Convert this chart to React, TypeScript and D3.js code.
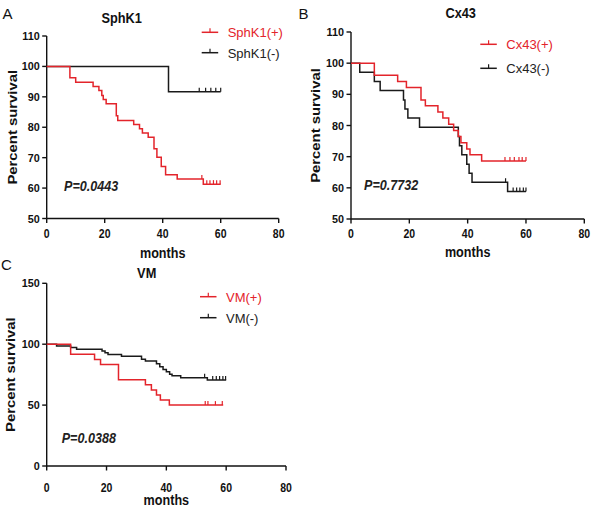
import React from "react";
import * as d3 from "d3";

// ---------- DATA ----------
const xTicks = [0, 20, 40, 60, 80];
const yTicksAB = [50, 60, 70, 80, 90, 100, 110];
const yTicksC = [0, 50, 100, 150];

// Panel A: SphK1
const sphPosTimes = [8, 10, 16, 18, 19, 19.5, 20.5, 24, 24.5, 30, 32, 33, 35, 37, 38, 39.5, 41, 45, 54];
const sphPosValues = [96.3, 94.8, 93.4, 92.1, 90.4, 89.1, 87.7, 83.8, 82.2, 80.9, 79.5, 78.1, 76.7, 72.9, 70.1, 67.1, 64.4, 63.0, 61.3];
const sphPosCensor = [53.5, 55.2, 56.3, 57.5, 58.6, 59.8];
const sphNegTimes = [42];
const sphNegValues = [91.7];
const sphNegCensor = [52.6, 54.8, 56.6, 58.3, 60];

// Panel B: Cx43
const cxPosTimes = [8, 16, 19, 24, 25.5, 29.8, 31.5, 33.5, 35.2, 36.8, 37.7, 39.7, 40.8, 44.8];
const cxPosValues = [96.1, 94.1, 92.2, 88.2, 86.3, 84.3, 82.4, 80.4, 78.4, 76.5, 74.5, 72.5, 70.6, 68.6];
const cxPosCensor = [52.8, 54.5, 56, 57.6, 58.7, 60];
const cxNegTimes = [3, 8, 10, 18, 18.5, 19.5, 23.5, 36.8, 37.2, 38, 39.7, 40.5, 41.5, 53.7];
const cxNegValues = [97.1, 94.1, 91.2, 88.2, 85.3, 82.4, 79.4, 76.5, 73.5, 70.6, 67.6, 64.7, 61.8, 58.8];
const cxNegCensor = [53, 55.6, 56.8, 57.9, 59.1, 60];

// Panel C: VM
const vmPosTimes = [8, 16, 18, 24, 33, 35, 36.7, 38, 41];
const vmPosValues = [91.7, 87.5, 83.3, 70.8, 66.7, 62.5, 58.3, 54.2, 50];
const vmPosCensor = [53, 53.9, 56.4, 58.7];
const vmNegTimes = [3.3, 8, 10, 18.5, 19.5, 20.5, 25, 31.7, 33, 36.7, 37.8, 38.9, 40, 41.1, 41.9, 44.8, 53.7];
const vmNegValues = [98.6, 97.2, 95.8, 94.4, 92.9, 91.5, 90.1, 87.7, 86.3, 83.9, 81.5, 79.3, 77.3, 75.3, 74.0, 72.4, 70.6];
const vmNegCensor = [52.8, 55.5, 56.7, 57.8, 58.9, 59.8];

// ---------- STYLE ----------
const RED = "#e3242b";
const BLACK = "#1a1a1a";
const FONT = "'Liberation Sans', Arial, Helvetica, sans-serif";

type Series = {
  name: string;
  color: string;
  times: number[];
  values: number[];
  censor: number[];
  end: number;
};

type PanelProps = {
  letter: string;
  letterPos: [number, number];
  title: string;
  titlePos: [number, number];
  x0: number;
  x1: number;
  yTop: number;
  yBot: number;
  yDomain: [number, number];
  yTicks: number[];
  series: Series[];
  legendX: number;
  legendYs: number[];
  pText: string;
  pPos: [number, number];
  yLabelX: number;
  xLabelY: number;
  xTickY: number;
};

function T(props: {
  x: number;
  y: number;
  sx?: number;
  sy?: number;
  rot?: number;
  size: number;
  bold?: boolean;
  italic?: boolean;
  anchor?: string;
  fill?: string;
  children: React.ReactNode;
}) {
  const { x, y, sx = 1, sy = 1, rot = 0, size, bold, italic, anchor = "start", fill = "#111" } = props;
  return (
    <text
      transform={`translate(${x},${y}) rotate(${rot}) scale(${sx},${sy})`}
      fontSize={size}
      fontWeight={bold ? "bold" : "normal"}
      fontStyle={italic ? "italic" : "normal"}
      textAnchor={anchor}
      fill={fill}
    >
      {props.children}
    </text>
  );
}

function survAt(s: Series, t: number) {
  let v = 100;
  for (let i = 0; i < s.times.length; i++) if (s.times[i] <= t) v = s.values[i];
  return v;
}

function Panel(p: PanelProps) {
  const x = d3.scaleLinear().domain([0, 80]).range([p.x0, p.x1]);
  const y = d3.scaleLinear().domain(p.yDomain).range([p.yBot, p.yTop]);
  const line = d3
    .line<[number, number]>()
    .x((d) => x(d[0]))
    .y((d) => y(d[1]))
    .curve(d3.curveStepAfter);

  return (
    <g fontFamily={FONT}>
      <T x={p.letterPos[0]} y={p.letterPos[1]} size={15}>
        {p.letter}
      </T>
      <T x={p.titlePos[0]} y={p.titlePos[1]} size={12.8} sy={1.12} bold anchor="middle">
        {p.title}
      </T>
      {/* axes */}
      <line x1={p.x0} x2={p.x0} y1={p.yTop} y2={p.yBot} stroke="#111" strokeWidth={1.4} />
      <line x1={p.x0} x2={p.x1} y1={p.yBot} y2={p.yBot} stroke="#111" strokeWidth={1.4} />
      {p.yTicks.map((t) => (
        <g key={"y" + t}>
          <line x1={p.x0 - 4.5} x2={p.x0} y1={y(t)} y2={y(t)} stroke="#111" strokeWidth={1.4} />
          <T x={p.x0 - 7} y={y(t) + 4} size={10.8} sy={1.08} bold anchor="end">
            {t}
          </T>
        </g>
      ))}
      {xTicks.map((t) => (
        <g key={"x" + t}>
          <line x1={x(t)} x2={x(t)} y1={p.yBot} y2={p.yBot + 4.5} stroke="#111" strokeWidth={1.4} />
          <T x={x(t)} y={p.xTickY} size={10.5} sy={1.25} bold anchor="middle">
            {t}
          </T>
        </g>
      ))}
      <T x={p.yLabelX + 5} y={(p.yTop + p.yBot) / 2} rot={-90} sx={1.1} size={13.5} bold anchor="middle">
        Percent survival
      </T>
      <T x={(p.x0 + p.x1) / 2} y={p.xLabelY} size={12.6} sy={1.2} bold anchor="middle">
        months
      </T>
      {/* curves: draw black first then red */}
      {[...p.series].reverse().map((s) => {
        const pts: [number, number][] = [[0, 100]];
        s.times.forEach((t, i) => pts.push([t, s.values[i]]));
        pts.push([s.end, s.values[s.values.length - 1]]);
        return (
          <g key={s.name}>
            <path d={line(pts) || ""} fill="none" stroke={s.color} strokeWidth={1.5} />
            {s.censor.map((c, i) => (
              <line
                key={i}
                x1={x(c)}
                x2={x(c)}
                y1={y(survAt(s, c))}
                y2={y(survAt(s, c)) - 4}
                stroke={s.color}
                strokeWidth={1.2}
              />
            ))}
          </g>
        );
      })}
      {/* legend */}
      {p.series.map((s, i) => (
        <g key={"lg" + s.name}>
          <line x1={p.legendX} x2={p.legendX + 16.5} y1={p.legendYs[i]} y2={p.legendYs[i]} stroke={s.color} strokeWidth={1.5} />
          <line
            x1={p.legendX + 8.3}
            x2={p.legendX + 8.3}
            y1={p.legendYs[i]}
            y2={p.legendYs[i] - 4}
            stroke={s.color}
            strokeWidth={1.2}
          />
          <T x={p.legendX + 26} y={p.legendYs[i] + 4.8} size={13} sy={1.05} fill={i === 0 ? RED : "#222"}>
            {s.name}
          </T>
        </g>
      ))}
      <T x={p.pPos[0]} y={p.pPos[1]} size={12.6} sy={1.12} bold italic fill="#222">
        {p.pText}
      </T>
    </g>
  );
}

export default function App() {
  const panels: PanelProps[] = [
    {
      letter: "A",
      letterPos: [2.5, 18.5],
      title: "SphK1",
      titlePos: [121.7, 22.5],
      x0: 46.7,
      x1: 278.7,
      yTop: 36,
      yBot: 218.5,
      yDomain: [50, 110],
      yTicks: yTicksAB,
      series: [
        { name: "SphK1(+)", color: RED, times: sphPosTimes, values: sphPosValues, censor: sphPosCensor, end: 60 },
        { name: "SphK1(-)", color: BLACK, times: sphNegTimes, values: sphNegValues, censor: sphNegCensor, end: 60 },
      ],
      legendX: 201.7,
      legendYs: [32.3, 52.7],
      pText: "P=0.0443",
      pPos: [64, 190.5],
      yLabelX: 11.7,
      xLabelY: 258,
      xTickY: 238.3,
    },
    {
      letter: "B",
      letterPos: [298.5, 18.5],
      title: "Cx43",
      titlePos: [460.7, 17.5],
      x0: 351,
      x1: 584.3,
      yTop: 32,
      yBot: 219,
      yDomain: [50, 110],
      yTicks: yTicksAB,
      series: [
        { name: "Cx43(+)", color: RED, times: cxPosTimes, values: cxPosValues, censor: cxPosCensor, end: 60 },
        { name: "Cx43(-)", color: BLACK, times: cxNegTimes, values: cxNegValues, censor: cxNegCensor, end: 60 },
      ],
      legendX: 480.3,
      legendYs: [44.3, 68.3],
      pText: "P=0.7732",
      pPos: [364, 190],
      yLabelX: 315,
      xLabelY: 257,
      xTickY: 237.8,
    },
    {
      letter: "C",
      letterPos: [1, 269.5],
      title: "VM",
      titlePos: [146.7, 277.7],
      x0: 46.7,
      x1: 286,
      yTop: 283.3,
      yBot: 466,
      yDomain: [0, 150],
      yTicks: yTicksC,
      series: [
        { name: "VM(+)", color: RED, times: vmPosTimes, values: vmPosValues, censor: vmPosCensor, end: 59 },
        { name: "VM(-)", color: BLACK, times: vmNegTimes, values: vmNegValues, censor: vmNegCensor, end: 60 },
      ],
      legendX: 200,
      legendYs: [296.7, 317.7],
      pText: "P=0.0388",
      pPos: [61.7, 443],
      yLabelX: 10,
      xLabelY: 505,
      xTickY: 491.5,
    },
  ];
  return (
    <svg
      width={594}
      height={511}
      viewBox="0 0 594 511"
      style={{ position: "absolute", left: 0, top: 0, background: "#fff" }}
    >
      <rect width={594} height={511} fill="#fff" />
      {panels.map((p) => (
        <Panel key={p.letter} {...p} />
      ))}
    </svg>
  );
}
